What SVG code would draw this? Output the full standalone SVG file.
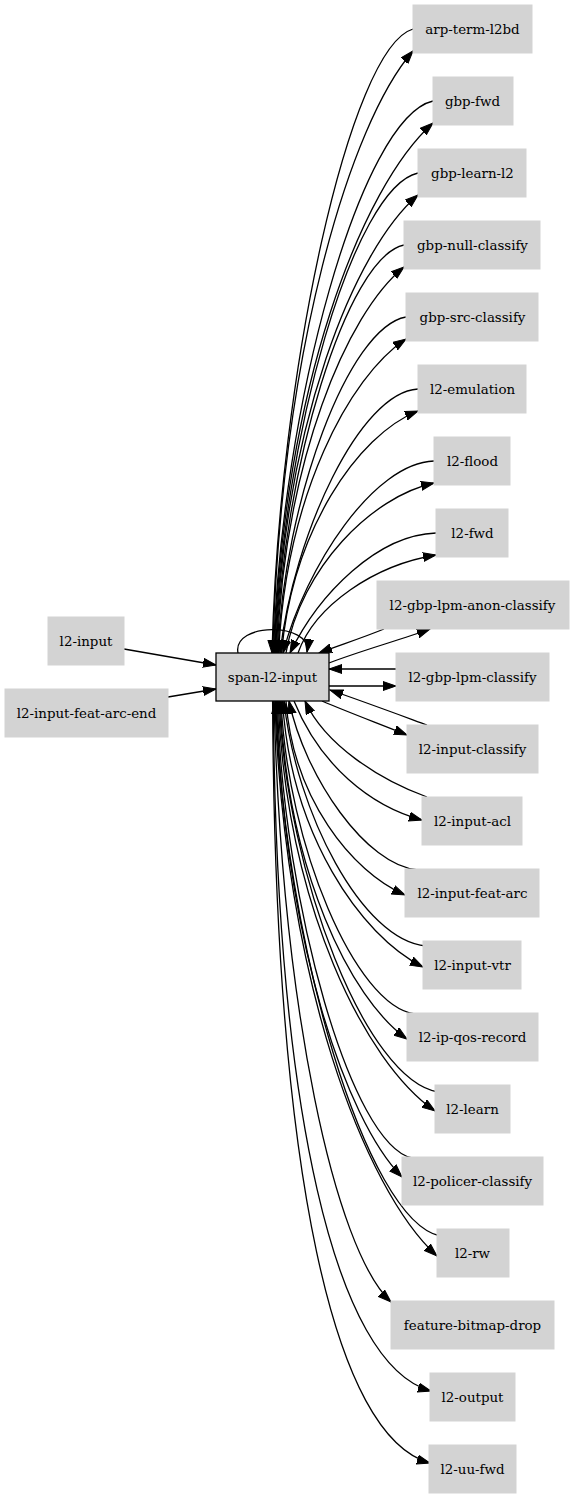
<svg xmlns="http://www.w3.org/2000/svg" width="573" height="1499" viewBox="0 0 573 1499">
<defs>
<style>
.n rect{fill:#d3d3d3;stroke:#d3d3d3;stroke-width:1}
.n text{font-family:"DejaVu Serif","Liberation Serif",serif;font-size:13.4px;text-anchor:middle;fill:#000}
#span-l2-input rect{stroke:#000;stroke-width:1.3}
#edges path{fill:none;stroke:#000;stroke-width:1.3;marker-end:url(#a)}
</style>
<marker id="a" markerUnits="userSpaceOnUse" markerWidth="15" markerHeight="11" refX="13" refY="5" orient="auto">
<path d="M0,0.5 L13,5 L0,9.5 z" fill="#000" stroke="#000" stroke-width="1"/>
</marker>
</defs>
<rect width="573" height="1499" fill="#fff"/>
<g id="edges">
<path d="M124,649 L216,665"/>
<path d="M168,697 L216,689"/>
<path d="M238,653 C232,622 312,622 307,652"/>
<path d="M413,29 C349.6,47.7 279.1,372.2 272,653"/>
<path d="M272.7,653 C281.1,352 349.9,123.2 413,51"/>
<path d="M433,101 C361.2,117.6 281.4,404.6 273.4,653"/>
<path d="M274.1,653 C283.6,388 361.5,186.6 433,123"/>
<path d="M418,173 C353.6,187.4 282,437 274.8,653"/>
<path d="M275.5,653 C284.1,424 353.9,250 418,195"/>
<path d="M404,245 C346.5,257.2 282.6,469.4 276.2,653"/>
<path d="M277,653 C284.6,460 346.8,313.3 404,267"/>
<path d="M406,317 C348.3,327.1 284.2,501.8 277.8,653"/>
<path d="M278.6,653 C286.2,496 348.7,376.7 406,339"/>
<path d="M418,389 C360,392 293.8,534 280,653"/>
<path d="M281.5,653 C292.4,532 356.6,435.2 418,411"/>
<path d="M434,461 C373.6,463 305.7,566.6 283,653"/>
<path d="M286,653 C300.8,568 371.8,496.6 434,483"/>
<path d="M436,533 C377.6,535 319.2,593 290,653"/>
<path d="M298,653 C315,605 375,565 436,555"/>
<path d="M384,629 C362,638 340,645 319,653"/>
<path d="M329,663 C360,651 400,640 430,629"/>
<path d="M396,669 L329,669"/>
<path d="M329,686 L396,686"/>
<path d="M322,701 C350,713 380,724 407,735"/>
<path d="M427,725 C397,714 362,701 330,690"/>
<path d="M427,797 C380,780 325,745 305,701"/>
<path d="M294,701 C320,765 370,806 422,820"/>
<path d="M418,870 C366.4,866 305,777 289,701"/>
<path d="M286,701 C293.1,798 351.4,871.7 405,895"/>
<path d="M426,946 C362.1,940.6 296,812.1 284,701"/>
<path d="M282.5,701 C290.9,834 359.8,935.1 423,967"/>
<path d="M415,1014 C355,1006 287.5,844.5 281,701"/>
<path d="M280,701 C287.6,870 349.8,998.4 407,1039"/>
<path d="M438,1092 C366.4,1080.3 287,877 279,701"/>
<path d="M278,701 C287.4,906 364.3,1061.8 435,1111"/>
<path d="M412,1158 C351.3,1144.3 283.9,906.6 277.2,701"/>
<path d="M276.4,701 C283.9,939 345.5,1119.9 402,1177"/>
<path d="M440,1236 C366,1220 283.8,941.7 275.6,701"/>
<path d="M274.8,701 C284.5,978.5 364,1189.4 437,1256"/>
<path d="M274,701 C282,1010 335,1250 391,1302"/>
<path d="M273.3,701 C276,1110 335,1365 431,1391"/>
<path d="M272.6,701 C275,1180 335,1437 430,1463"/>
</g>
<g id="span-l2-input" class="n"><rect x="216" y="653" width="113" height="48"/><text x="272.5" y="681.5">span-l2-input</text></g>
<g id="l2-input" class="n"><rect x="48" y="617" width="76" height="48"/><text x="86" y="645.5">l2-input</text></g>
<g id="l2-input-feat-arc-end" class="n"><rect x="5" y="689" width="163" height="48"/><text x="86.5" y="717.5">l2-input-feat-arc-end</text></g>
<g id="arp-term-l2bd" class="n"><rect x="413" y="5" width="119" height="48"/><text x="472.5" y="33.5">arp-term-l2bd</text></g>
<g id="gbp-fwd" class="n"><rect x="433" y="77" width="80" height="48"/><text x="472.5" y="105.5">gbp-fwd</text></g>
<g id="gbp-learn-l2" class="n"><rect x="418" y="149" width="108" height="48"/><text x="472.5" y="177.5">gbp-learn-l2</text></g>
<g id="gbp-null-classify" class="n"><rect x="404" y="221" width="136" height="48"/><text x="472.5" y="249.5">gbp-null-classify</text></g>
<g id="gbp-src-classify" class="n"><rect x="406" y="293" width="132" height="48"/><text x="472.5" y="321.5">gbp-src-classify</text></g>
<g id="l2-emulation" class="n"><rect x="418" y="365" width="108" height="48"/><text x="472.5" y="393.5">l2-emulation</text></g>
<g id="l2-flood" class="n"><rect x="434" y="437" width="76" height="48"/><text x="472.5" y="465.5">l2-flood</text></g>
<g id="l2-fwd" class="n"><rect x="436" y="509" width="72" height="48"/><text x="472.5" y="537.5">l2-fwd</text></g>
<g id="l2-gbp-lpm-anon-classify" class="n"><rect x="377" y="581" width="192" height="48"/><text x="472.5" y="609.5">l2-gbp-lpm-anon-classify</text></g>
<g id="l2-gbp-lpm-classify" class="n"><rect x="396" y="653" width="153" height="48"/><text x="472.5" y="681.5">l2-gbp-lpm-classify</text></g>
<g id="l2-input-classify" class="n"><rect x="407" y="725" width="131" height="48"/><text x="472.5" y="753.5">l2-input-classify</text></g>
<g id="l2-input-acl" class="n"><rect x="422" y="797" width="100" height="48"/><text x="472.5" y="825.5">l2-input-acl</text></g>
<g id="l2-input-feat-arc" class="n"><rect x="405" y="869" width="134" height="48"/><text x="472.5" y="897.5">l2-input-feat-arc</text></g>
<g id="l2-input-vtr" class="n"><rect x="423" y="941" width="98" height="48"/><text x="472.5" y="969.5">l2-input-vtr</text></g>
<g id="l2-ip-qos-record" class="n"><rect x="407" y="1013" width="131" height="48"/><text x="472.5" y="1041.5">l2-ip-qos-record</text></g>
<g id="l2-learn" class="n"><rect x="435" y="1085" width="75" height="48"/><text x="472.5" y="1113.5">l2-learn</text></g>
<g id="l2-policer-classify" class="n"><rect x="402" y="1157" width="141" height="48"/><text x="472.5" y="1185.5">l2-policer-classify</text></g>
<g id="l2-rw" class="n"><rect x="437" y="1229" width="72" height="48"/><text x="472.5" y="1257.5">l2-rw</text></g>
<g id="feature-bitmap-drop" class="n"><rect x="391" y="1301" width="163" height="48"/><text x="472.5" y="1329.5">feature-bitmap-drop</text></g>
<g id="l2-output" class="n"><rect x="430" y="1373" width="85" height="48"/><text x="472.5" y="1401.5">l2-output</text></g>
<g id="l2-uu-fwd" class="n"><rect x="429" y="1445" width="87" height="48"/><text x="472.5" y="1473.5">l2-uu-fwd</text></g>
</svg>
